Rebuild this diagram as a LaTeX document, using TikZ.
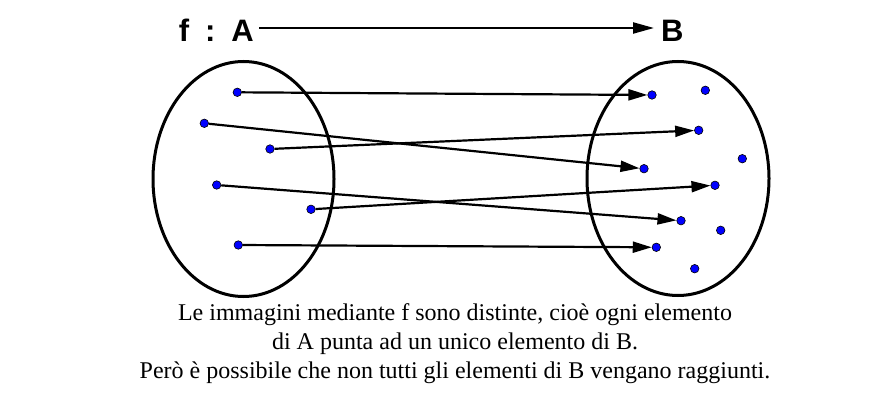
\documentclass[tikz,border=0pt]{standalone}
\usepackage{fontspec}
\setmainfont{Liberation Serif}
\newfontfamily\headfont{Liberation Sans}
\usetikzlibrary{arrows.meta}

\begin{document}
\begin{tikzpicture}
[x=1pt, y=-1pt,
 every node/.style={inner sep=0pt},
 elem/.style={circle, minimum size=8.5pt, fill=blue, line width=0.6pt, draw=black},
 maparrow/.style={line width=2.2pt, -{Triangle[length=19pt, width=11pt]}, color=black},
 head/.style={font=\headfont\bfseries\fontsize{31}{31}\selectfont}]
\useasboundingbox (0,0) rectangle (870,401);
% sets
\draw [line width=3pt] (243.5,179) ellipse [x radius=90.5, y radius=117.5];
\draw [line width=3pt] (678,178.5) ellipse [x radius=91, y radius=117];
% header
\node (fA) [head, anchor=base east] at (254,42) {f\hspace{16pt}:\hspace{16pt}A};
\node (B) [head, anchor=base west] at (661,42) {B};
\coordinate (s) at (259,28);
\coordinate (t) at (654,28);
\draw [line width=2.2pt, -{Triangle[length=21pt, width=11pt]}] (s) -- (t);
% elements of A
\node (a1) [elem] at (237.3, 92.3) {};
\node (a2) [elem] at (204.3, 123.3) {};
\node (a3) [elem] at (270, 149) {};
\node (a4) [elem] at (216.7, 185) {};
\node (a5) [elem] at (311, 209.3) {};
\node (a6) [elem] at (238.3, 245) {};
% elements of B
\node (b1) [elem] at (652, 95) {};
\node (b2) [elem] at (705.3, 90.3) {};
\node (b3) [elem] at (698.7, 130.3) {};
\node (b4) [elem] at (742.3, 158.7) {};
\node (b5) [elem] at (644, 168.7) {};
\node (b6) [elem] at (715, 185.3) {};
\node (b7) [elem] at (681, 220.7) {};
\node (b8) [elem] at (720.7, 230.3) {};
\node (b9) [elem] at (656.3, 247.3) {};
\node (b10) [elem] at (694.7, 268.7) {};
\draw [maparrow] (a1) to (b1);
\draw [maparrow] (a2) to (b5);
\draw [maparrow] (a3) to (b3);
\draw [maparrow] (a4) to (b7);
\draw [maparrow] (a5) to (b6);
\draw [maparrow] (a6) to (b9);
% caption
\node (note) [align=center, anchor=base, font=\fontsize{24}{29}\selectfont] at (455,378)
  {Le immagini mediante f sono distinte, cioè ogni elemento\\
   di A punta ad un unico elemento di B.\\
   Però è possibile che non tutti gli elementi di B vengano raggiunti.};
\end{tikzpicture}
\end{document}
